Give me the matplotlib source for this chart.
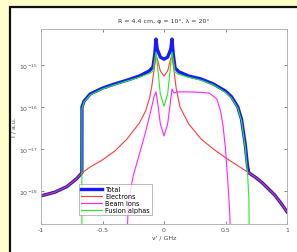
import matplotlib
matplotlib.use("Agg")
import matplotlib.pyplot as plt
import numpy as np
from matplotlib.patches import Rectangle

# spectra (log10 of intensity)
x_total = [-1.0, -0.886, -0.79, -0.71, -0.668, -0.667, -0.65, -0.6, -0.5, -0.4, -0.3, -0.2, -0.12,
           -0.09, -0.075, -0.065, -0.055, -0.03, 0.0, 0.03, 0.055, 0.065, 0.075, 0.09, 0.12,
           0.2, 0.3, 0.4, 0.5, 0.55, 0.6, 0.63, 0.66, 0.68, 0.69, 0.75, 0.8, 0.9, 0.95, 1.0]
lg_total = [-18.12, -18.03, -17.9, -17.71, -17.57, -16.0, -15.86, -15.69, -15.55, -15.45, -15.36, -15.26, -15.14,
            -15.05, -14.74, -14.38, -14.62, -14.81, -14.86, -14.81, -14.62, -14.38, -14.74, -15.07, -15.16,
            -15.26, -15.33, -15.45, -15.62, -15.76, -16.0, -16.29, -16.88, -17.43, -17.57, -17.69, -17.81, -18.1, -18.29, -18.5]

x_elec = [-1.0, -0.886, -0.79, -0.71, -0.667, -0.6, -0.5, -0.4, -0.3, -0.2, -0.15, -0.12, -0.1,
          -0.08, -0.065, -0.05, -0.03, 0.0, 0.03, 0.05, 0.065, 0.08, 0.1, 0.13, 0.2, 0.3, 0.4,
          0.5, 0.6, 0.69, 0.75, 0.8, 0.9, 0.95, 1.0]
lg_elec = [-18.12, -18.03, -17.9, -17.71, -17.57, -17.43, -17.26, -17.05, -16.76, -16.38, -16.1, -15.81, -15.52,
           -15.1, -14.76, -14.9, -15.14, -15.26, -15.14, -14.9, -14.76, -15.1, -15.57, -16.0, -16.4, -16.76, -17.0,
           -17.21, -17.4, -17.57, -17.69, -17.81, -18.1, -18.29, -18.5]

x_beam = [-0.305, -0.29, -0.27, -0.25, -0.2, -0.15, -0.1, -0.08, -0.065, -0.05, -0.03, 0.0,
          0.03, 0.05, 0.065, 0.08, 0.11, 0.2, 0.3, 0.37, 0.43, 0.46, 0.48, 0.5, 0.52, 0.535, 0.545]
lg_beam = [-19.5, -18.31, -17.95, -17.64, -17.12, -16.6, -16.0, -15.74, -15.64, -15.93, -16.4, -16.69,
           -16.4, -15.93, -15.57, -15.67, -15.64, -15.64, -15.65, -15.67, -15.81, -16.1, -16.45, -17.0, -17.83, -18.55, -19.5]

x_alpha = [-0.668, -0.667, -0.65, -0.6, -0.5, -0.4, -0.3, -0.2, -0.12, -0.09, -0.075, -0.065, -0.05,
           -0.03, 0.0, 0.03, 0.05, 0.065, 0.075, 0.09, 0.12, 0.2, 0.3, 0.4, 0.5, 0.55, 0.6, 0.63,
           0.66, 0.68, 0.69, 0.695]
lg_alpha = [-19.5, -16.05, -15.88, -15.71, -15.57, -15.47, -15.38, -15.29, -15.2, -15.15, -14.86, -14.69, -15.1,
            -15.69, -15.98, -15.69, -15.1, -14.69, -14.86, -15.17, -15.22, -15.29, -15.36, -15.47, -15.65, -15.79, -16.03, -16.33,
            -16.95, -17.6, -18.2, -19.5]

fig = plt.figure(figsize=(2.97, 2.53), dpi=100, facecolor="#ffffcc")

# white panel with dark frame, kept behind the axes
panel = Rectangle((10 / 297, -0.1), 1.2, (253 - 8) / 253 + 0.1, transform=fig.transFigure,
                  facecolor="white", edgecolor="#111111", linewidth=1.6, zorder=-5)
fig.patches.append(panel)

ax = fig.add_axes([41 / 297, 28 / 253, 246 / 297, 195 / 253])
ax.set_zorder(1)

ax.semilogy(x_total, 10 ** np.array(lg_total), color="#1a1aff", lw=2.4, label="Total")
ax.semilogy(x_elec, 10 ** np.array(lg_elec), color="#ff3a3a", lw=0.8, label="Electrons")
ax.semilogy(x_beam, 10 ** np.array(lg_beam), color="#ff22ff", lw=0.8, label="Beam ions")
ax.semilogy(x_alpha, 10 ** np.array(lg_alpha), color="#22ee22", lw=0.8, label="Fusion alphas")

ax.set_xlim(-1, 1)
ax.set_ylim(10 ** -18.79, 10 ** -14.14)
ax.set_xticks([-1, -0.5, 0, 0.5, 1])
ax.set_xticklabels(["-1", "-0.5", "0", "0.5", "1"])
ax.set_yticks([1e-18, 1e-17, 1e-16, 1e-15])
ax.yaxis.set_minor_locator(matplotlib.ticker.NullLocator())
ax.tick_params(direction="in", labelsize=4.5, colors="#555555", length=2, width=0.5,
               top=True, right=True, pad=2)
for s in ax.spines.values():
    s.set_color("#aaaaaa")
    s.set_linewidth(0.6)

ax.set_title("R = 4.4 cm, φ = 10°, λ = 20°", fontsize=4.5, color="#333333", pad=5)
ax.set_xlabel("ν' / GHz", fontsize=4.5, color="#444444", labelpad=2)
ax.set_ylabel("I / a.u.", fontsize=4.5, color="#444444", labelpad=2)

leg = ax.legend(loc="lower left", bbox_to_anchor=(0.14, 0.03), fontsize=4.7, frameon=True,
                fancybox=False, edgecolor="#888888", handlelength=3.2, borderpad=0.3,
                labelspacing=0.15, handletextpad=0.6)
leg.get_frame().set_linewidth(0.5)

fig.savefig("out.png", dpi=100, facecolor=fig.get_facecolor())
